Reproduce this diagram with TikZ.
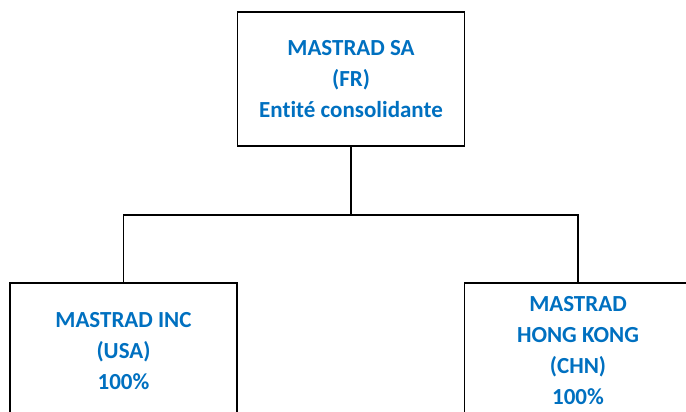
\documentclass[tikz,border=0pt]{standalone}
\usepackage{fontspec}
\setmainfont{Carlito}[Ligatures=NoCommon]
\definecolor{entblue}{HTML}{0070C0}
\begin{document}
\begin{tikzpicture}[x=1pt,y=-1pt,
 		entity/.style={draw,line width=1.2pt,minimum width=227pt,minimum height=134pt,
 			align=center,text=entblue,font=\bfseries\fontsize{23}{31}\selectfont},
 		lien/.style={line width=1.2pt}]
 		\useasboundingbox (0,0) rectangle (686,412);
 		\clip (0,0) rectangle (686,412);
 		\path (351,79) node[entity] (SA) {MASTRAD SA\\(FR)\\Entité consolidante}
 		 (123.5,351) node[entity,minimum height=136pt] (INC) {MASTRAD INC\\(USA)\\100\%}
 		 (578,351) node[entity,minimum height=136pt] (HK) {MASTRAD\\HONG KONG\\(CHN)\\100\%}
 		;
 		\coordinate (bus) at (SA.south |- 0,215);
 		\draw[lien] (SA.south) -- (bus);
 		\foreach \f in {INC,HK}{%
 		\draw[lien] (bus) -| (\f.north);
 		}%
 	\end{tikzpicture}
\end{document}
